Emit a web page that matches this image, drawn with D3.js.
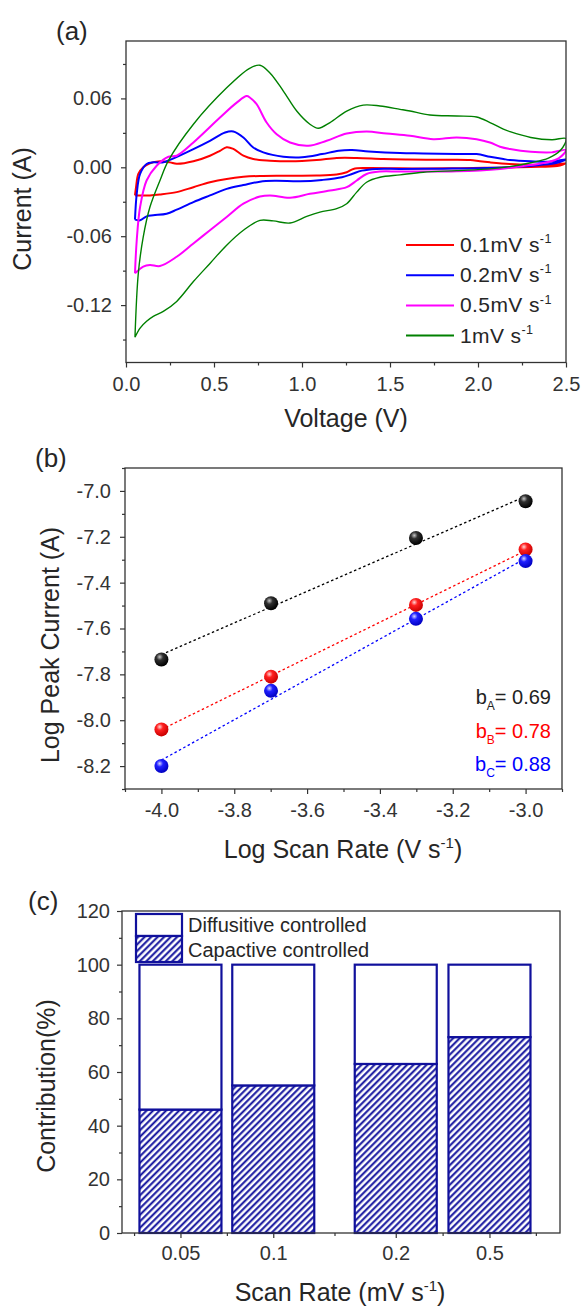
<!DOCTYPE html>
<html><head><meta charset="utf-8">
<script src="https://cdn.jsdelivr.net/npm/d3@7"></script>
<style>
body{margin:0;background:#fff}
svg{display:block}
</style></head><body>
<svg id="fig" width="585" height="1309"></svg>
<script>
// ---------- (a) cyclic voltammograms: [voltage V, current A], anodic sweep then cathodic sweep ----------
const cv01 = [[0.051,-0.0245],[0.057,-0.0173],[0.070,-0.0058],[0.098,0.0],[0.136,0.0035],[0.193,0.0052],[0.25,0.0043],[0.288,0.0030],[0.383,0.0052],[0.477,0.0101],[0.534,0.0144],[0.572,0.0175],[0.61,0.0160],[0.667,0.0101],[0.723,0.0072],[0.818,0.0058],[0.932,0.0052],[1.083,0.0063],[1.197,0.0081],[1.311,0.0081],[1.462,0.0072],[1.60,0.0068],[1.80,0.0065],[1.955,0.0063],[2.011,0.0052],[2.068,0.0043],[2.18,0.0029],[2.30,0.0022],[2.42,0.0022],[2.5,0.0035],
  [2.45,0.0012],[2.3,0.0003],[2.1,-0.0003],[1.9,-0.0008],[1.7,-0.0010],[1.557,-0.0009],[1.367,-0.0006],[1.292,-0.0014],[1.254,-0.0043],[1.197,-0.0063],[1.083,-0.0072],[0.894,-0.0073],[0.761,-0.0075],[0.667,-0.0083],[0.572,-0.0101],[0.477,-0.0130],[0.383,-0.0173],[0.288,-0.0216],[0.193,-0.0237],[0.136,-0.0245],[0.051,-0.0245]];
const cv02 = [[0.051,-0.0456],[0.061,-0.0231],[0.080,-0.0058],[0.117,0.0029],[0.155,0.0043],[0.212,0.0043],[0.25,0.0065],[0.383,0.0159],[0.477,0.0231],[0.563,0.0303],[0.61,0.0312],[0.667,0.0260],[0.723,0.0173],[0.78,0.0130],[0.894,0.0092],[1.0,0.0087],[1.114,0.0115],[1.208,0.0144],[1.284,0.0150],[1.379,0.0138],[1.557,0.0124],[1.689,0.0121],[1.879,0.0115],[1.992,0.0115],[2.068,0.0092],[2.144,0.0072],[2.182,0.0063],[2.3,0.0052],[2.42,0.0050],[2.5,0.0070],
  [2.45,0.0040],[2.35,0.0020],[2.2,0.0002],[2.0,-0.0009],[1.8,-0.0012],[1.557,-0.0014],[1.424,-0.0014],[1.34,-0.0029],[1.284,-0.0058],[1.227,-0.0087],[1.114,-0.0110],[0.989,-0.0122],[0.85,-0.0118],[0.761,-0.0125],[0.667,-0.0155],[0.572,-0.0188],[0.477,-0.0245],[0.383,-0.0303],[0.288,-0.0369],[0.231,-0.0404],[0.155,-0.0418],[0.117,-0.0427],[0.080,-0.0462],[0.051,-0.0456]];
const cv05 = [[0.051,-0.0923],[0.061,-0.0635],[0.080,-0.0346],[0.117,-0.0115],[0.174,0.0014],[0.241,0.0092],[0.288,0.0101],[0.383,0.0216],[0.534,0.0433],[0.629,0.0563],[0.686,0.0620],[0.705,0.0606],[0.742,0.0550],[0.799,0.0390],[0.856,0.0288],[0.932,0.0216],[1.036,0.0188],[1.14,0.0231],[1.254,0.0294],[1.367,0.0312],[1.48,0.0294],[1.614,0.0274],[1.746,0.0245],[1.879,0.0260],[1.992,0.0245],[2.068,0.0216],[2.125,0.0179],[2.182,0.0159],[2.3,0.0135],[2.42,0.0130],[2.5,0.0150],
  [2.46,0.0080],[2.38,0.0040],[2.25,0.0010],[2.125,-0.0014],[1.879,-0.0035],[1.557,-0.0037],[1.443,-0.0037],[1.367,-0.0058],[1.311,-0.0115],[1.254,-0.0173],[1.159,-0.0202],[1.045,-0.0231],[0.932,-0.0265],[0.818,-0.0245],[0.761,-0.0255],[0.667,-0.0317],[0.572,-0.0433],[0.477,-0.0548],[0.383,-0.0663],[0.288,-0.0779],[0.193,-0.0860],[0.136,-0.0851],[0.098,-0.0865],[0.051,-0.0923]];
const cv1 = [[0.051,-0.148],[0.070,-0.0923],[0.098,-0.0606],[0.136,-0.0346],[0.193,-0.0115],[0.241,0.0058],[0.383,0.0375],[0.572,0.0692],[0.70,0.0860],[0.761,0.0889],[0.818,0.0822],[0.894,0.0664],[0.970,0.0490],[1.045,0.0375],[1.093,0.0340],[1.159,0.0390],[1.254,0.0490],[1.348,0.0542],[1.443,0.0534],[1.557,0.0505],[1.614,0.0490],[1.727,0.0456],[1.879,0.0447],[1.992,0.0438],[2.068,0.0390],[2.144,0.0332],[2.182,0.0310],[2.3,0.0260],[2.42,0.0240],[2.5,0.0250],
  [2.47,0.0150],[2.4,0.0080],[2.3,0.0040],[2.18,0.0006],[2.068,-0.0014],[1.879,-0.0029],[1.689,-0.0043],[1.557,-0.0066],[1.443,-0.0087],[1.367,-0.0130],[1.311,-0.0216],[1.254,-0.0317],[1.197,-0.0360],[1.102,-0.0390],[1.027,-0.0427],[0.932,-0.0485],[0.837,-0.0467],[0.761,-0.0462],[0.667,-0.0548],[0.572,-0.0678],[0.477,-0.0837],[0.383,-0.0995],[0.288,-0.1168],[0.212,-0.1255],[0.155,-0.1298],[0.117,-0.1341],[0.080,-0.1400],[0.051,-0.148]];
const cvLabels = ["0.1mV s", "0.2mV s", "0.5mV s", "1mV s"];
const cvColors = ["#ff0000", "#0000ff", "#ff00ff", "#008000"];
const voltTicks = [0, 0.5, 1.0, 1.5, 2.0, 2.5];
const currentTicks = [-0.12, -0.06, 0, 0.06];

// ---------- (b) log peak current vs log scan rate ----------
const logScanRate = [-4.0, -3.699, -3.301, -3.0];
const logPeakA = [-7.735, -7.49, -7.205, -7.045];
const logPeakB = [-8.04, -7.81, -7.497, -7.255];
const logPeakC = [-8.2, -7.872, -7.558, -7.306];
const bValues = [0.69, 0.78, 0.88];
const bNames = ["A", "B", "C"];
const bColors = ["#222222", "#ff0000", "#0000ff"];
const logRateTicks = [-4.0, -3.8, -3.6, -3.4, -3.2, -3.0];
const logPeakTicks = [-8.2, -8.0, -7.8, -7.6, -7.4, -7.2, -7.0];

// ---------- (c) capacitive / diffusive contribution ----------
const scanRates = ["0.05", "0.1", "0.2", "0.5"];
const barSlot = [1, 2, 3.32, 4.33];
const capacitive = [46, 55, 63, 73];
const diffusive = [54, 45, 37, 27];
const contribTicks = [0, 20, 40, 60, 80, 100, 120];

// ---------- drawing ----------
const FONT = '"Liberation Sans", Arial, sans-serif';
const INK = "#262626";
const NAVY = "#10109c";
const svg = d3.select("#fig").attr("font-family", FONT);
svg.append("rect").attr("width", 585).attr("height", 1309).attr("fill", "#fff");
const defs = svg.append("defs");

const noMinus = f => d => f(d).replace(/\u2212/g, "-");

function drawAxes(g, x, y, box, o) {
  g.append("rect").attr("x", box.l).attr("y", box.t)
    .attr("width", box.r - box.l).attr("height", box.b - box.t)
    .attr("fill", "none").attr("stroke", "#333").attr("stroke-width", 1.3);
  const parts = [
    [d3.axisBottom(x).tickValues(o.xMinor).tickSize(3).tickFormat(""), `translate(0,${box.b})`],
    [d3.axisBottom(x).tickValues(o.xMajor).tickSize(5).tickPadding(o.xPad).tickFormat(o.xFmt), `translate(0,${box.b})`],
    [d3.axisLeft(y).tickValues(o.yMinor).tickSize(3).tickFormat(""), `translate(${box.l},0)`],
    [d3.axisLeft(y).tickValues(o.yMajor).tickSize(5).tickPadding(o.yPad).tickFormat(o.yFmt), `translate(${box.l},0)`]
  ];
  parts.forEach(([ax, tr]) => {
    const a = g.append("g").attr("transform", tr).call(ax)
      .attr("font-family", FONT).attr("font-size", 20);
    a.select(".domain").remove();
    a.selectAll("line").attr("stroke", "#333").attr("stroke-width", 1.2);
    a.selectAll("text").attr("fill", "#333");
  });
}

// text with superscript / subscript runs: parts = [[string, kind]]
function richText(t, base, parts) {
  let shift = 0;
  parts.forEach(([s, k]) => {
    const target = k === "sup" ? -0.42 * base : k === "sub" ? 0.32 * base : 0;
    t.append("tspan").attr("dy", target - shift)
      .attr("font-size", k ? base * 0.6 : base).text(s);
    shift = target;
  });
  return t;
}

function panelLetter(x, yb, s) {
  svg.append("text").attr("x", x).attr("y", yb).attr("font-size", 26)
    .attr("fill", INK).text(s);
}
function xTitle(cx, yb, parts) {
  richText(svg.append("text").attr("x", cx).attr("y", yb).attr("text-anchor", "middle")
    .attr("fill", INK), 25, parts);
}
function yTitle(xb, cy, s) {
  svg.append("text").attr("transform", `translate(${xb},${cy}) rotate(-90)`)
    .attr("text-anchor", "middle").attr("font-size", 25).attr("fill", INK).text(s);
}

// ===== panel (a) =====
{
  const box = {l: 126, r: 566, t: 41, b: 362.5};
  const x = d3.scaleLinear().domain([0, 2.5]).range([box.l, box.r]);
  const y = d3.scaleLinear().domain([-0.17, 0.11]).range([box.b, box.t]);
  const g = svg.append("g");
  defs.append("clipPath").attr("id", "clipA").append("rect")
    .attr("x", box.l).attr("y", box.t).attr("width", box.r - box.l).attr("height", box.b - box.t);
  const line = d3.line().x(d => x(d[0])).y(d => y(d[1])).curve(d3.curveCatmullRom.alpha(0.5));
  const curves = [cv01, cv02, cv05, cv1];
  const widths = [2, 2, 2, 1.4];
  const cg = g.append("g").attr("clip-path", "url(#clipA)");
  curves.forEach((c, i) => {
    cg.append("path").attr("d", line(c)).attr("fill", "none")
      .attr("stroke", cvColors[i]).attr("stroke-width", widths[i]).attr("stroke-linejoin", "round");
  });
  drawAxes(g, x, y, box, {
    xMajor: voltTicks, xMinor: [0.25, 0.75, 1.25, 1.75, 2.25], xPad: 9, xFmt: noMinus(d3.format(".1f")),
    yMajor: currentTicks, yMinor: [-0.15, -0.09, -0.03, 0.03, 0.09], yPad: 9, yFmt: noMinus(d3.format(".2f"))
  });
  // legend
  cvLabels.forEach((lab, i) => {
    const ly = 245 + i * 30.2;
    g.append("line").attr("x1", 406).attr("x2", 454).attr("y1", ly).attr("y2", ly)
      .attr("stroke", cvColors[i]).attr("stroke-width", 2);
    richText(g.append("text").attr("x", 460).attr("y", ly + 7).attr("fill", INK)
      .attr("letter-spacing", 0.4), 21, [[lab, ""], ["-1", "sup"]]);
  });
  panelLetter(56, 40, "(a)");
  xTitle(346, 426.5, [["Voltage (V)", ""]]);
  yTitle(31, 209, "Current (A)");
}

// ===== panel (b) =====
{
  const box = {l: 125, r: 562, t: 468, b: 789};
  const x = d3.scaleLinear().domain([-4.1, -2.9]).range([box.l, box.r]);
  const y = d3.scaleLinear().domain([-8.3, -6.9]).range([box.b, box.t]);
  const g = svg.append("g");
  drawAxes(g, x, y, box, {
    xMajor: logRateTicks, xMinor: [-4.1, -3.9, -3.7, -3.5, -3.3, -3.1, -2.9], xPad: 9, xFmt: noMinus(d3.format(".1f")),
    yMajor: logPeakTicks, yMinor: [-8.3, -8.1, -7.9, -7.7, -7.5, -7.3, -7.1, -6.9], yPad: 9, yFmt: noMinus(d3.format(".1f"))
  });
  const series = [logPeakA, logPeakB, logPeakC];
  const markColors = [["#c8c8c8", "#303030", "#000"], ["#ffd6d6", "#ff2020", "#c80000"], ["#d6d6ff", "#2020ff", "#0000c0"]];
  markColors.forEach((c, i) => {
    const gr = defs.append("radialGradient").attr("id", "ball" + i)
      .attr("cx", "38%").attr("cy", "32%").attr("r", "68%");
    gr.append("stop").attr("offset", "0%").attr("stop-color", c[0]);
    gr.append("stop").attr("offset", "35%").attr("stop-color", c[1]);
    gr.append("stop").attr("offset", "100%").attr("stop-color", c[2]);
  });
  const lineColors = ["#000", "#ff0000", "#0000ff"];
  const xMean = d3.mean(logScanRate);
  series.forEach((s, i) => {
    // fitted line with the stated slope through the centroid of the points
    const yMean = d3.mean(s);
    const fit = v => yMean + bValues[i] * (v - xMean);
    const x0 = logScanRate[0], x1 = logScanRate[logScanRate.length - 1];
    g.append("line").attr("x1", x(x0)).attr("y1", y(fit(x0))).attr("x2", x(x1)).attr("y2", y(fit(x1)))
      .attr("stroke", lineColors[i]).attr("stroke-width", 1.3).attr("stroke-dasharray", "2.5,2.5");
  });
  series.forEach((s, i) => {
    g.append("g").selectAll("circle").data(s).join("circle")
      .attr("cx", (d, j) => x(logScanRate[j])).attr("cy", d => y(d)).attr("r", 7)
      .attr("fill", `url(#ball${i})`);
  });
  bValues.forEach((b, i) => {
    richText(g.append("text").attr("x", 551).attr("y", 704 + i * 33.5).attr("text-anchor", "end")
      .attr("fill", bColors[i]), 20, [["b", ""], [bNames[i], "sub"], ["= " + b.toFixed(2), ""]]);
  });
  panelLetter(35, 467, "(b)");
  xTitle(343, 858, [["Log Scan Rate (V s", ""], ["-1", "sup"], [")", ""]]);
  yTitle(59, 645, "Log Peak Current (A)");
}

// ===== panel (c) =====
{
  const box = {l: 122, r: 560, t: 911, b: 1233};
  const x = d3.scaleLinear().domain([0.37, 5.09]).range([box.l, box.r]);
  const y = d3.scaleLinear().domain([0, 120]).range([box.b, box.t]);
  const g = svg.append("g");
  const P = 4.6;
  const pat = defs.append("pattern").attr("id", "hatch").attr("patternUnits", "userSpaceOnUse")
    .attr("width", P).attr("height", P).attr("patternTransform", "rotate(45)");
  pat.append("rect").attr("width", P).attr("height", P).attr("fill", "#fff");
  pat.append("line").attr("x1", 1.2).attr("x2", 1.2).attr("y1", 0).attr("y2", P)
    .attr("stroke", NAVY).attr("stroke-width", 2);
  const barW = 82;
  const bars = g.append("g");
  scanRates.forEach((r, i) => {
    const cx = x(barSlot[i]);
    bars.append("rect").attr("x", cx - barW / 2).attr("y", y(capacitive[i]))
      .attr("width", barW).attr("height", y(0) - y(capacitive[i]))
      .attr("fill", "url(#hatch)").attr("stroke", NAVY).attr("stroke-width", 2.2);
    bars.append("rect").attr("x", cx - barW / 2).attr("y", y(capacitive[i] + diffusive[i]))
      .attr("width", barW).attr("height", y(capacitive[i]) - y(capacitive[i] + diffusive[i]))
      .attr("fill", "#fff").attr("stroke", NAVY).attr("stroke-width", 2.2);
  });
  const mids = [0.5, 1.5, 2.66, 3.825, 4.83];
  drawAxes(g, x, y, box, {
    xMajor: barSlot, xMinor: mids, xPad: 8, xFmt: (d, i) => scanRates[i],
    yMajor: contribTicks, yMinor: [10, 30, 50, 70, 90, 110], yPad: 7, yFmt: d3.format("d")
  });
  // legend
  g.append("rect").attr("x", 136).attr("y", 914).attr("width", 46).attr("height", 22)
    .attr("fill", "#fff").attr("stroke", NAVY).attr("stroke-width", 2.2);
  g.append("rect").attr("x", 136).attr("y", 936).attr("width", 46).attr("height", 26)
    .attr("fill", "url(#hatch)").attr("stroke", NAVY).attr("stroke-width", 2.2);
  g.append("text").attr("x", 188).attr("y", 931.5).attr("font-size", 20).attr("fill", INK).text("Diffusitive controlled");
  g.append("text").attr("x", 188).attr("y", 956.5).attr("font-size", 20).attr("fill", INK).text("Capactive controlled");
  panelLetter(28, 910, "(c)");
  xTitle(340, 1301, [["Scan Rate (mV s", ""], ["-1", "sup"], [")", ""]]);
  yTitle(55, 1086, "Contribution(%)");
}
</script></body></html>
